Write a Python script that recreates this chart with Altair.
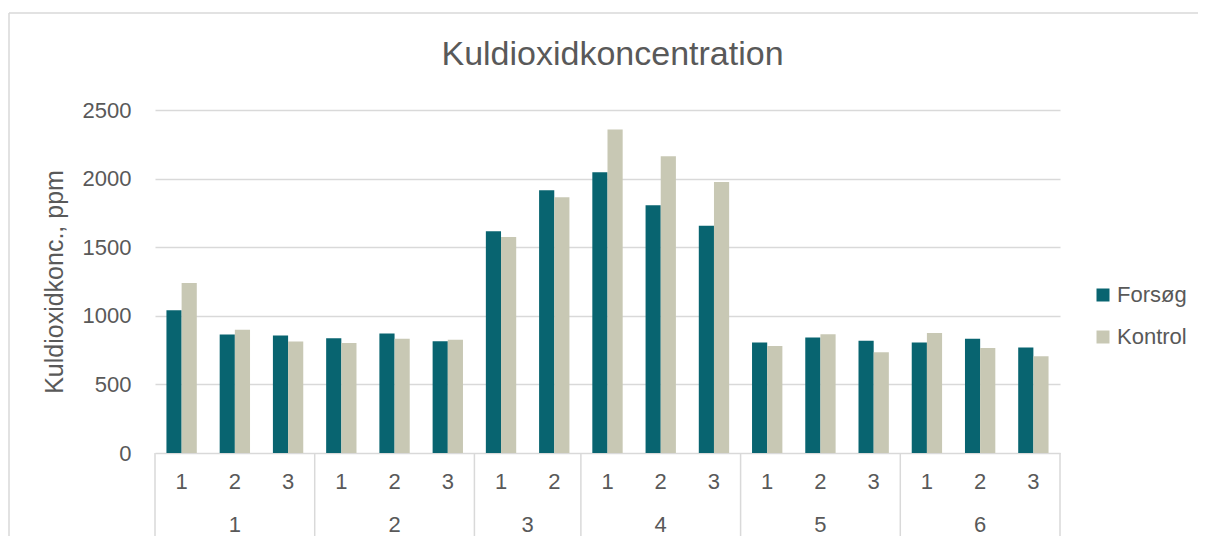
import itertools
import altair as alt
import pandas as pd

# ---- data ----
groups = ["1", "1", "1", "2", "2", "2", "3", "3", "4", "4", "4", "5", "5", "5", "6", "6", "6"]
subs = ["1", "2", "3", "1", "2", "3", "1", "2", "1", "2", "3", "1", "2", "3", "1", "2", "3"]
forsog = [1041, 864, 857, 837, 871, 815, 1616, 1915, 2046, 1806, 1657, 806, 842, 818, 806, 832, 769]
kontrol = [1239, 898, 813, 801, 832, 825, 1574, 1864, 2358, 2163, 1976, 779, 866, 735, 874, 766, 706]
series = ["Forsøg", "Kontrol"]
colors = ["#086470", "#C8C8B4"]
group_names = ["1", "2", "3", "4", "5", "6"]
y_ticks = [0, 500, 1000, 1500, 2000, 2500]
title_text = ["Kuldioxidkoncentration"]

FONT = "Liberation Sans"
TXT = "#595959"
GRID = "#D9D9D9"
W, H = 905, 343

keys = [f"{g}-{s}" for g, s in zip(groups, subs)]
bars_df = pd.DataFrame({
    "key": keys * 2,
    "series": [series[0]] * len(keys) + [series[1]] * len(keys),
    "value": forsog + kontrol,
})
sub_df = pd.DataFrame({"key": keys, "sub": subs})
counts = [groups.count(g) for g in group_names]
ends = list(itertools.accumulate(counts))
starts = [0] + ends[:-1]
grp_df = pd.DataFrame({"group": group_names,
                       "center": [(s + e) / 2 for s, e in zip(starts, ends)]})
bound_df = pd.DataFrame({"b": [0] + ends})
one = pd.DataFrame({"t": title_text})

xband = alt.Scale(domain=keys, paddingInner=0.43, paddingOuter=0.215)
xlin = alt.Scale(domain=[0, len(keys)], nice=False, zero=False)

bars = alt.Chart(bars_df).mark_bar().encode(
    x=alt.X("key:N", scale=xband, axis=None, sort=keys),
    xOffset=alt.XOffset("series:N", scale=alt.Scale(domain=series, paddingInner=0, paddingOuter=0)),
    y=alt.Y("value:Q", scale=alt.Scale(domain=[0, 2500], nice=False),
            axis=alt.Axis(values=y_ticks, format="d", title="Kuldioxidkonc., ppm",
                          domain=False, ticks=False, labelPadding=24,
                          labelFontSize=22, labelColor=TXT, labelFont=FONT,
                          gridColor=GRID, gridWidth=1.3,
                          titleFontSize=25, titleColor=TXT, titleFont=FONT,
                          titleFontWeight="normal", titleX=-93, titleY=H / 2,
                          titleBaseline="alphabetic", titleAlign="center")),
    color=alt.Color("series:N", scale=alt.Scale(domain=series, range=colors),
                    legend=alt.Legend(title=None, orient="none", legendX=937, legendY=174,
                                      symbolType="square", symbolSize=169,
                                      symbolStrokeWidth=0, labelFontSize=22,
                                      labelColor=TXT, labelFont=FONT,
                                      rowPadding=20, labelOffset=3)),
)

sublabels = alt.Chart(sub_df).mark_text(font=FONT, fontSize=22, color=TXT, baseline="middle").encode(
    x=alt.X("key:N", scale=xband, axis=None, sort=keys),
    y=alt.value(H + 29),
    text="sub:N",
)

grouplabels = alt.Chart(grp_df).mark_text(font=FONT, fontSize=22, color=TXT, baseline="middle").encode(
    x=alt.X("center:Q", scale=xlin, axis=None),
    y=alt.value(H + 72),
    text="group:N",
)

seps = alt.Chart(bound_df).mark_rule(color=GRID, strokeWidth=1.5).encode(
    x=alt.X("b:Q", scale=xlin, axis=None),
    y=alt.value(H),
    y2=alt.value(H + 90),
)

title = alt.Chart(one).mark_text(font=FONT, fontSize=34, color=TXT, baseline="alphabetic",
                                 align="center").encode(
    x=alt.value(W / 2 + 5), y=alt.value(-45), text="t:N"
)

border_top = alt.Chart(one).mark_rule(color=GRID, strokeWidth=1.5).encode(
    x=alt.value(-146), x2=alt.value(W + 140), y=alt.value(-97)
)
border_left = alt.Chart(one).mark_rule(color=GRID, strokeWidth=1.5).encode(
    x=alt.value(-146), y=alt.value(-97), y2=alt.value(H + 95)
)

chart = alt.layer(bars, sublabels, grouplabels, seps, title, border_top, border_left).resolve_scale(
    x="independent"
).properties(
    width=W, height=H,
    autosize=alt.AutoSizeParams(type="none"),
    padding={"left": 147, "top": 102, "right": 138, "bottom": 83},
).configure(font=FONT, background="white").configure_view(stroke=None)

chart.save("out.html", embed_options={"renderer": "svg", "actions": False})
